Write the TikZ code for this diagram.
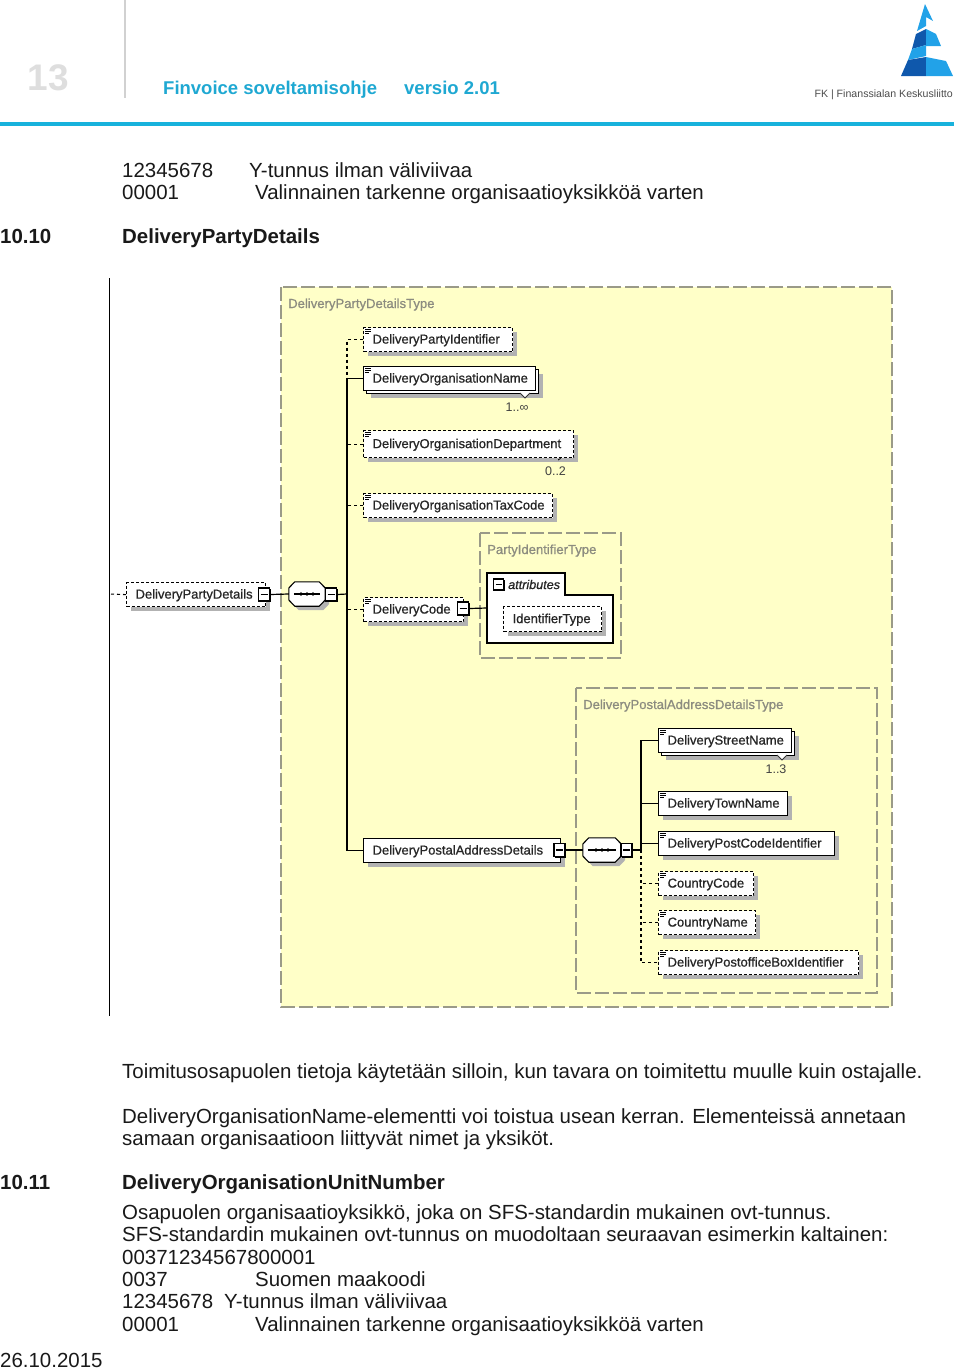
\documentclass[tikz,border=0pt]{standalone}
\usepackage{fontspec}
\setmainfont{Liberation Sans}
\newfontfamily\diagfont[FakeBold=0.8]{Liberation Sans}
\usetikzlibrary{shadows}
\hyphenpenalty=10000
\definecolor{paperyellow}{HTML}{FFFFC8}
\definecolor{frameline}{HTML}{9A9A88}
\definecolor{typetext}{HTML}{8C8C80}
\definecolor{headcyan}{HTML}{1FA8D2}
\definecolor{rulecyan}{HTML}{18B2DC}
\definecolor{logolight}{HTML}{22A2E8}
\definecolor{logodark}{HTML}{0F58AC}
\tikzset{
  bodytxt/.style={anchor=base west,inner sep=0pt,font=\fontsize{20.45}{22}\selectfont,text=black!90},
  headbold/.style={bodytxt,font=\fontsize{20.45}{22}\selectfont\bfseries},
  typeframe/.style={draw=frameline,line width=1.1pt,dash pattern=on 14pt off 4pt},
  typename/.style={anchor=base west,inner sep=0pt,font=\diagfont\fontsize{13.1}{14}\selectfont,text=typetext},
  elemtxt/.style={anchor=north west,rectangle,inner ysep=0pt,inner xsep=9pt,minimum height=24pt,fill=white,
    text height=10.5pt,text depth=2.5pt,
    font=\diagfont\fontsize{13}{14}\selectfont,text=black!85,align=flush left},
  elemsolid/.style={elemtxt,draw=black,line width=1.2pt,text width=#1pt,
    drop shadow={shadow xshift=4pt,shadow yshift=-4pt,fill=black!30,opacity=1}},
  elemdash/.style={elemtxt,draw=black,line width=1.2pt,dash pattern=on 3pt off 2pt,text width=#1pt,
    drop shadow={shadow xshift=4pt,shadow yshift=-4pt,fill=black!30,opacity=1,solid}},
  elemstack/.style={elemtxt,draw=black,line width=1.2pt,text width=#1pt,
    drop shadow={shadow xshift=7pt,shadow yshift=-7pt,fill=black!30,opacity=1},
    copy shadow={shadow xshift=3pt,shadow yshift=-3pt}},
  collapse/.style={rectangle,draw=black,line width=1.3pt,fill=white,inner sep=0pt,minimum width=11pt,minimum height=13pt,
    drop shadow={shadow xshift=1pt,shadow yshift=-1pt,fill=black,opacity=1},
    path picture={\draw[line width=1.1pt] ([xshift=2pt]path picture bounding box.west) -- ([xshift=-2pt]path picture bounding box.east);}},
  seqbox/.style={rectangle,inner sep=0pt,minimum width=36pt,minimum height=24pt},
  seqline/.style={draw=black,line width=1.1pt,fill=white,
    drop shadow={shadow xshift=4pt,shadow yshift=-4pt,fill=black!30,opacity=1}},
  stubline/.style={draw=black,line width=1.2pt},
  stubdash/.style={draw=black,line width=1.1pt,dash pattern=on 3pt off 3pt},
  occurs/.style={anchor=base,inner sep=0pt,font=\fontsize{12.5}{14}\selectfont,text=black!75},
  notch/.style={draw=black!80,line width=.8pt,fill=white}
}
% three short lines in the corner of an element
\newcommand{\elemmark}[1]{
  \draw[line width=.7pt] ([xshift=2pt,yshift=-2pt]#1.north west) -- ++(6,0);
  \draw[line width=.7pt] ([xshift=2pt,yshift=-4pt]#1.north west) -- ++(6,0);
  \draw[line width=.7pt] ([xshift=2pt,yshift=-6pt]#1.north west) -- ++(4,0);
}
% cut corners and three dots of a sequence
\newcommand{\seqoct}[1]{
  \path[seqline] ([yshift=6pt]#1.west) -- ([xshift=6pt]#1.north west) -- ([xshift=-6pt]#1.north east) -- ([yshift=6pt]#1.east)
    -- ([yshift=-6pt]#1.east) -- ([xshift=-6pt]#1.south east) -- ([xshift=6pt]#1.south west) -- ([yshift=-6pt]#1.west) -- cycle;
  \draw[line width=1.1pt] ([xshift=5pt]#1.west) -- ([xshift=-5pt]#1.east);
  \fill ([xshift=-6pt]#1.center) circle (1.9pt);
  \fill (#1.center) circle (1.9pt);
  \fill ([xshift=6pt]#1.center) circle (1.9pt);
}
\begin{document}
\begin{tikzpicture}[x=1pt,y=-1pt]
  \useasboundingbox (0,0) rectangle (960,1371);

  % Page head
  \node[anchor=base west,inner sep=0pt,font=\fontsize{37}{38}\selectfont\bfseries,text=black!13] (pageno) at (27.5,90) {13};
  \draw[black!18,line width=2pt] (124.5,0) -- (124.5,98);
  \node[anchor=base west,inner sep=0pt,font=\fontsize{18.5}{20}\selectfont\bfseries,text=headcyan] (headA) at (163,94) {Finvoice soveltamisohje};
  \node[anchor=base west,inner sep=0pt,font=\fontsize{18.5}{20}\selectfont\bfseries,text=headcyan] (headB) at (404,94) {versio 2.01};
  \fill[rulecyan] (0,122) rectangle (954,126);

  % Logo
  \fill[logolight] (925,4) -- (933,21) -- (926,17) -- (926,26) -- (917,31) -- cycle;
  \fill[logodark] (916,34) -- (926,29) -- (926,45) -- (912,49) -- cycle;
  \fill[logolight] (926,29) -- (936,34) -- (941,46) -- (926,46) -- cycle;
  \fill[logolight] (912,49) -- (926,45) -- (926,56) -- (908,60) -- cycle;
  \fill[logodark] (908,60) -- (926,57) -- (926,76) -- (901,76) -- cycle;
  \fill[logolight] (926,57) -- (946,61) -- (953,76) -- (926,76) -- cycle;
  \node[anchor=base east,inner sep=0pt,font=\fontsize{10.6}{12}\selectfont,text=black!70] (logotxt) at (953,97) {FK | Finanssialan Keskusliitto};

  % Text above the diagram
  \node[bodytxt] (txtA) at (122,177) {12345678};
  \node[bodytxt] (txtB) at (249,177) {Y-tunnus ilman väliviivaa};
  \node[bodytxt] (txtC) at (122,199) {00001};
  \node[bodytxt] (txtD) at (255,199) {Valinnainen tarkenne organisaatioyksikköä varten};
  \node[headbold] (secA) at (0,243) {10.10};
  \node[headbold] (secB) at (122,243) {DeliveryPartyDetails};

  % Margin line
  \draw[black,line width=1pt] (109.5,278) -- (109.5,1016);

  % Type frames
  \fill[paperyellow] (281,287) rectangle (892,1007);
  \draw[typeframe] (281,287) rectangle (892,1007);
  \draw[typeframe] (480,533) rectangle (621,658);
  \draw[typeframe] (576,688) rectangle (877,993);
  \node[typename] (typeA) at (288,308) {DeliveryPartyDetailsType};
  \node[typename] (typeB) at (487,554) {PartyIdentifierType};
  \node[typename] (typeC) at (583,709) {DeliveryPostalAddressDetailsType};

  % Root and first sequence
  \node[elemdash=121] (root) at (126,582) {DeliveryPartyDetails};
  \node[collapse] (rootmin) at (264,594.5) {};
  \node[seqbox] (seqA) at (307,594) {};
  \seqoct{seqA}
  \node[collapse] (seqAmin) at (331,594.5) {};
  \draw[stubdash] (root.west) -- (109.5,594);
  \draw[stubline] (rootmin.east) -- (seqA.west);

  % Elements of the first sequence
  \node[elemdash=131] (partyId) at (363,327) {DeliveryPartyIdentifier};
  \node[elemstack=154] (orgName) at (363,366) {DeliveryOrganisationName};
  \node[elemdash=192,minimum height=27pt] (orgDept) at (363,430) {DeliveryOrganisationDepartment};
  \node[elemdash=171] (taxCode) at (363,493) {DeliveryOrganisationTaxCode};
  \node[elemdash=82] (delCode) at (363,597) {DeliveryCode};
  \node[collapse] (delCodemin) at (463,608.5) {};
  \node[elemsolid=179] (postal) at (363,838) {DeliveryPostalAddressDetails};
  \node[collapse] (postalmin) at (559.5,850) {};
  \elemmark{partyId}
  \elemmark{orgName}
  \elemmark{orgDept}
  \elemmark{taxCode}
  \elemmark{delCode}

  % Trunk of the first sequence
  \coordinate (trunkA) at (347,594);
  \draw[stubline] (seqAmin.east) -- (trunkA);
  \draw[stubdash] (partyId.west) -- (partyId.west -| trunkA) -- (orgName.west -| trunkA);
  \draw[stubline] (orgName.west) -- (orgName.west -| trunkA) -- (postal.west -| trunkA) -- (postal.west);
  \draw[stubdash] (orgDept.west) -- (orgDept.west -| trunkA);
  \draw[stubdash] (taxCode.west) -- (taxCode.west -| trunkA);
  \draw[stubdash] (delCode.west) -- (delCode.west -| trunkA);

  % Occurrences
  \draw[notch] (520,393) -- (525,398) -- (530,393);
  \node[occurs] (occA) at (517,411) {1..∞};
  \draw[stubdash,line width=.8pt] (558,460) -- (563,457);
  \node[occurs] (occB) at (555.5,475) {0..2};

  % Attributes
  \draw[black,line width=1.2pt,fill=white] (487,573) -- (565,573) -- (565,595) -- (613,595) -- (613,643) -- (487,643) -- cycle;
  \coordinate (attrleft) at (487,608);
  \draw[stubline] (delCodemin.east) -- (attrleft);
  \node[collapse,minimum width=10pt,minimum height=11pt] (attrmin) at (498.5,584.5) {};
  \node[anchor=base west,inner sep=0pt,font=\diagfont\fontsize{12.6}{14}\selectfont\itshape,text=black!85] (attrtxt) at (508,589) {attributes};
  \node[elemdash=80,minimum height=25pt] (identType) at (503,606) {IdentifierType};

  % Second sequence
  \node[seqbox,minimum width=38pt] (seqB) at (602,850) {};
  \seqoct{seqB}
  \node[collapse] (seqBmin) at (626.5,850) {};
  \draw[stubline] (postalmin.east) -- (seqB.west);

  % Elements of the second sequence
  \node[elemstack=115] (street) at (658,728) {DeliveryStreetName};
  \node[elemsolid=111] (town) at (658,791) {DeliveryTownName};
  \node[elemsolid=158] (postCode) at (658,831) {DeliveryPostCodeIdentifier};
  \node[elemdash=77] (ctryCode) at (658,871) {CountryCode};
  \node[elemdash=79] (ctryName) at (658,910) {CountryName};
  \node[elemdash=182] (poBox) at (658,950) {DeliveryPostofficeBoxIdentifier};
  \elemmark{street}
  \elemmark{town}
  \elemmark{postCode}
  \elemmark{ctryCode}
  \elemmark{ctryName}
  \elemmark{poBox}

  % Trunk of the second sequence
  \coordinate (trunkB) at (641,850);
  \draw[stubline] (seqBmin.east) -- (trunkB);
  \draw[stubline] (street.west) -- (street.west -| trunkB) -- (trunkB);
  \draw[stubline] (town.west) -- (town.west -| trunkB);
  \draw[stubline] (postCode.west) -- (postCode.west -| trunkB);
  \draw[stubdash] (trunkB) -- (poBox.west -| trunkB) -- (poBox.west);
  \draw[stubdash] (ctryCode.west) -- (ctryCode.west -| trunkB);
  \draw[stubdash] (ctryName.west) -- (ctryName.west -| trunkB);
  \draw[notch] (777,755) -- (782,760) -- (787,755);
  \node[occurs] (occC) at (776,773) {1..3};

  % Text below the diagram
  \node[bodytxt] (txtE) at (122,1078) {Toimitusosapuolen tietoja käytetään silloin, kun tavara on toimitettu muulle kuin ostajalle.};
  \node[bodytxt] (txtF) at (122,1123) {DeliveryOrganisationName-elementti voi toistua usean kerran. Elementeissä annetaan};
  \node[bodytxt] (txtG) at (122,1145) {samaan organisaatioon liittyvät nimet ja yksiköt.};
  \node[headbold] (secC) at (0,1189) {10.11};
  \node[headbold] (secD) at (122,1189) {DeliveryOrganisationUnitNumber};
  \node[bodytxt] (txtH) at (122,1219) {Osapuolen organisaatioyksikkö, joka on SFS-standardin mukainen ovt-tunnus.};
  \node[bodytxt] (txtI) at (122,1241) {SFS-standardin mukainen ovt-tunnus on muodoltaan seuraavan esimerkin kaltainen:};
  \node[bodytxt] (txtJ) at (122,1264) {00371234567800001};
  \node[bodytxt] (txtK) at (122,1286) {0037};
  \node[bodytxt] (txtL) at (255,1286) {Suomen maakoodi};
  \node[bodytxt] (txtM) at (122,1308) {12345678};
  \node[bodytxt] (txtN) at (224,1308) {Y-tunnus ilman väliviivaa};
  \node[bodytxt] (txtO) at (122,1331) {00001};
  \node[bodytxt] (txtP) at (255,1331) {Valinnainen tarkenne organisaatioyksikköä varten};
  \node[bodytxt] (footer) at (0,1367) {26.10.2015};
\end{tikzpicture}
\end{document}
